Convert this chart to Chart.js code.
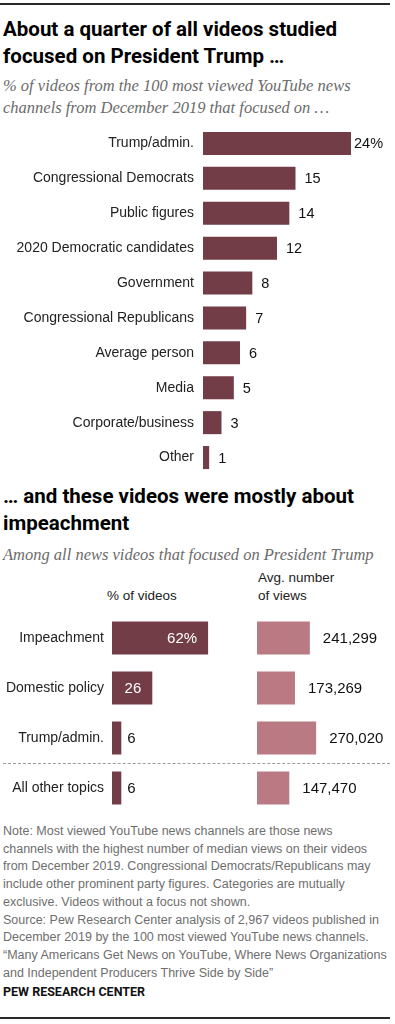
<!DOCTYPE html>
<html>
<head>
<meta charset="utf-8">
<script src="https://cdn.jsdelivr.net/npm/chart.js@4/dist/chart.umd.min.js"></script>
<style>
  html, body { margin: 0; padding: 0; background: #fff; }
  body { width: 395px; height: 1024px; position: relative; overflow: hidden; font-family: "Liberation Sans", Arial, sans-serif; }
  .abs { position: absolute; white-space: nowrap; }
  .rule { position: absolute; left: 0; width: 390px; height: 2px; background: #2a2a2a; }
  .title { left: 3px; font-family: Roboto, "Liberation Sans", sans-serif; font-weight: bold; font-size: 20.5px; line-height: 27px; color: #000; }
  .sub { left: 3px; font-family: "Liberation Serif", serif; font-style: italic; font-size: 16.5px; line-height: 22px; color: #6b6b6b; }
  .hdr { font-size: 13.5px; line-height: 18px; color: #222; }
  .notes { left: 3px; font-size: 12.5px; line-height: 17.7px; color: #6e6e6e; }
  .pew { left: 3px; font-family: Roboto, "Liberation Sans", sans-serif; font-size: 12.5px; font-weight: bold; color: #111; }
  canvas { position: absolute; }
</style>
</head>
<body>
<script>
// ---- Data ----
const categories1 = ['Trump/admin.', 'Congressional Democrats', 'Public figures', '2020 Democratic candidates', 'Government', 'Congressional Republicans', 'Average person', 'Media', 'Corporate/business', 'Other'];
const focusShare = [24, 15, 14, 12, 8, 7, 6, 5, 3, 1];

const topics2 = ['Impeachment', 'Domestic policy', 'Trump/admin.', 'All other topics'];
const pctOfVideos = [62, 26, 6, 6];
const avgViews = [241299, 173269, 270020, 147470];
</script>

<div class="rule" style="top:3px;"></div>
<div class="abs title" style="top:16px;">About a quarter of all videos studied<br>focused on President Trump …</div>
<div class="abs sub" style="top:75px;">% of videos from the 100 most viewed YouTube news<br>channels from December 2019 that focused on …</div>

<canvas id="c1" width="388" height="349" style="left:0;top:126px;"></canvas>

<div class="abs title" style="top:483px;">… and these videos were mostly about<br>impeachment</div>
<div class="abs sub" style="top:544px;">Among all news videos that focused on President Trump</div>

<div class="abs hdr" style="left:107px;top:587px;">% of videos</div>
<div class="abs hdr" style="left:258px;top:569px;">Avg. number<br>of views</div>

<canvas id="c2" width="236" height="200" style="left:0;top:613px;"></canvas>
<canvas id="c3" width="138" height="200" style="left:257px;top:613px;"></canvas>
<div class="abs" style="left:3px;top:763px;width:387px;border-top:1px dashed #9a9a9a;"></div>

<div class="abs notes" style="top:823px;">Note: Most viewed YouTube news channels are those news<br>channels with the highest number of median views on their videos<br>from December 2019. Congressional Democrats/Republicans may<br>include other prominent party figures. Categories are mutually<br>exclusive. Videos without a focus not shown.<br>Source: Pew Research Center analysis of 2,967 videos published in<br>December 2019 by the 100 most viewed YouTube news channels.<br>“Many Americans Get News on YouTube, Where News Organizations<br>and Independent Producers Thrive Side by Side”</div>
<div class="abs pew" style="top:984px;">PEW RESEARCH CENTER</div>
<div class="rule" style="top:1017px;"></div>

<script>
const DARK = '#733d48';
const LIGHT = '#b97a84';
const FONT = '"Liberation Sans", Arial, sans-serif';

function labelPlugin(id, fn) {
  return {
    id: id,
    afterDatasetsDraw(chart) {
      const ctx = chart.ctx;
      const meta = chart.getDatasetMeta(0);
      ctx.save();
      ctx.textBaseline = 'middle';
      meta.data.forEach((bar, i) => fn(ctx, bar, i));
      ctx.restore();
    }
  };
}

function fixWidth(w) {
  return s => { s.width = w; s.paddingTop = 0; s.paddingBottom = 0; };
}

const common = {
  responsive: false,
  animation: false,
  devicePixelRatio: 1,
  indexAxis: 'y',
  layout: { padding: 0 },
  plugins: { legend: { display: false }, tooltip: { enabled: false } },
  events: []
};

// Chart 1
new Chart(document.getElementById('c1'), {
  type: 'bar',
  data: {
    labels: categories1,
    datasets: [{ data: focusShare, backgroundColor: DARK, borderWidth: 0, barPercentage: 0.66, categoryPercentage: 1 }]
  },
  options: Object.assign({}, common, {
    scales: {
      x: { display: false, min: 0, max: 30 },
      y: {
        afterFit: fixWidth(203),
        grid: { display: false, drawTicks: false },
        border: { display: false },
        ticks: { color: '#222', padding: 9, autoSkip: false, font: { family: FONT, size: 14 } }
      }
    }
  }),
  plugins: [labelPlugin('v1', (ctx, bar, i) => {
    const v = focusShare[i];
    ctx.font = '14.5px ' + FONT;
    ctx.fillStyle = '#111';
    ctx.textAlign = 'left';
    ctx.fillText(i === 0 ? v + '%' : String(v), bar.x + (i === 0 ? 3 : 9), bar.y + 1);
  })]
});

// Chart 2 left
new Chart(document.getElementById('c2'), {
  type: 'bar',
  data: {
    labels: topics2,
    datasets: [{ data: pctOfVideos, backgroundColor: DARK, borderWidth: 0, barPercentage: 0.66, categoryPercentage: 1 }]
  },
  options: Object.assign({}, common, {
    scales: {
      x: { display: false, min: 0, max: 80 },
      y: {
        afterFit: fixWidth(112),
        grid: { display: false, drawTicks: false },
        border: { display: false },
        ticks: { color: '#222', padding: 8, autoSkip: false, font: { family: FONT, size: 14 } }
      }
    }
  }),
  plugins: [labelPlugin('v2', (ctx, bar, i) => {
    const v = pctOfVideos[i];
    const txt = i === 0 ? v + '%' : String(v);
    ctx.font = '15px ' + FONT;
    if (v >= 20) {
      ctx.fillStyle = '#fff';
      ctx.textAlign = 'right';
      ctx.fillText(txt, bar.x - 11, bar.y + 1);
    } else {
      ctx.fillStyle = '#111';
      ctx.textAlign = 'left';
      ctx.fillText(txt, bar.x + 6, bar.y + 1);
    }
  })]
});

// Chart 2 right
new Chart(document.getElementById('c3'), {
  type: 'bar',
  data: {
    labels: topics2,
    datasets: [{ data: avgViews, backgroundColor: LIGHT, borderWidth: 0, barPercentage: 0.66, categoryPercentage: 1 }]
  },
  options: Object.assign({}, common, {
    scales: {
      x: { display: false, min: 0, max: 630000 },
      y: { display: false }
    }
  }),
  plugins: [labelPlugin('v3', (ctx, bar, i) => {
    ctx.font = '15px ' + FONT;
    ctx.fillStyle = '#111';
    ctx.textAlign = 'left';
    ctx.fillText(avgViews[i].toLocaleString('en-US'), bar.x + 13, bar.y + 1);
  })]
});
</script>
</body>
</html>
